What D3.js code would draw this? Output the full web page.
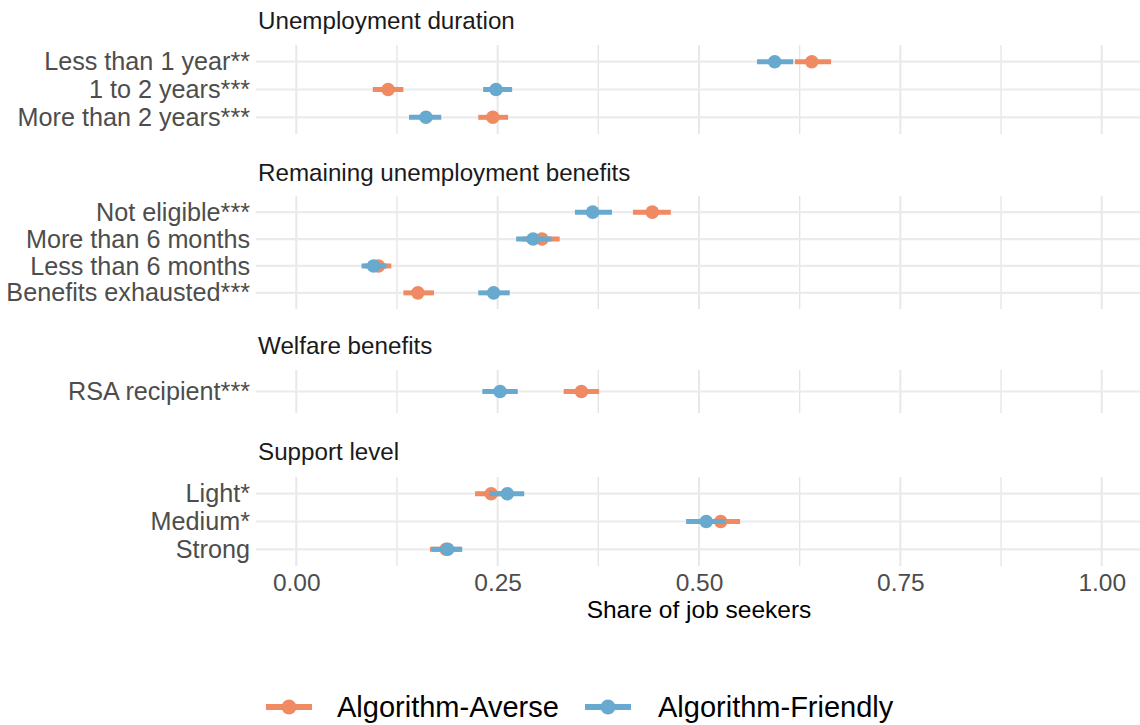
<!DOCTYPE html>
<html>
<head>
<meta charset="utf-8">
<script src="https://cdn.jsdelivr.net/npm/d3@7"></script>
<style>
  html, body { margin: 0; padding: 0; background: #fff; }
  svg { display: block; font-family: "Liberation Sans", Arial, sans-serif; }
</style>
</head>
<body>
<svg id="chart" width="1140" height="725"></svg>
<script>
// ---------------- data ----------------
const panels = ["Unemployment duration", "Remaining unemployment benefits", "Welfare benefits", "Support level"];
const categories = [
  "Less than 1 year**", "1 to 2 years***", "More than 2 years***",
  "Not eligible***", "More than 6 months", "Less than 6 months", "Benefits exhausted***",
  "RSA recipient***",
  "Light*", "Medium*", "Strong"
];
const categoryPanel = [0, 0, 0, 1, 1, 1, 1, 2, 3, 3, 3];
const seriesNames = ["Algorithm-Averse", "Algorithm-Friendly"];
const averseEst  = [0.640, 0.114, 0.244, 0.442, 0.305, 0.102, 0.151, 0.354, 0.242, 0.527, 0.186];
const averseLo   = [0.619, 0.095, 0.226, 0.418, 0.281, 0.085, 0.133, 0.332, 0.222, 0.505, 0.166];
const averseHi   = [0.664, 0.133, 0.263, 0.465, 0.327, 0.118, 0.171, 0.376, 0.262, 0.551, 0.205];
const friendlyEst = [0.594, 0.248, 0.161, 0.368, 0.294, 0.096, 0.245, 0.253, 0.262, 0.509, 0.188];
const friendlyLo  = [0.572, 0.232, 0.140, 0.346, 0.273, 0.081, 0.226, 0.231, 0.240, 0.484, 0.168];
const friendlyHi  = [0.617, 0.268, 0.180, 0.392, 0.317, 0.112, 0.265, 0.275, 0.283, 0.533, 0.206];
const xTicks = [0, 0.25, 0.5, 0.75, 1];
const xMinor = [0.125, 0.375, 0.625, 0.875];
const xTitle = "Share of job seekers";

// ---------------- layout ----------------
const colors = ["#EF8A62", "#67A9CF"];
const panelTop = [45, 196, 370, 477];
const panelBottom = [134, 309, 413, 566];
const titleY = [21, 173, 346, 452];
const plotLeft = 256, plotRight = 1142;

const svg = d3.select("#chart");
const x = d3.scaleLinear().domain([-0.05, 1.05]).range([plotLeft, plotRight]);

const series = [
  { name: seriesNames[0], est: averseEst, lo: averseLo, hi: averseHi, color: colors[0] },
  { name: seriesNames[1], est: friendlyEst, lo: friendlyLo, hi: friendlyHi, color: colors[1] }
];

svg.append("defs").append("clipPath").attr("id", "clipAll")
  .append("rect").attr("x", plotLeft).attr("y", 0).attr("width", 1140 - plotLeft).attr("height", 725);

panels.forEach((pname, pi) => {
  const idx = categories.map((c, i) => i).filter(i => categoryPanel[i] === pi);
  const y = d3.scalePoint().domain(idx).range([panelTop[pi], panelBottom[pi]]).padding(0.6);
  const g = svg.append("g").attr("clip-path", "url(#clipAll)");

  // minor vertical grid
  g.selectAll("line.minor").data(xMinor).join("line")
    .attr("x1", d => x(d)).attr("x2", d => x(d))
    .attr("y1", panelTop[pi]).attr("y2", panelBottom[pi])
    .attr("stroke", "#E4E4E4").attr("stroke-width", 1.3);
  // major vertical grid
  g.selectAll("line.major").data(xTicks).join("line")
    .attr("x1", d => x(d)).attr("x2", d => x(d))
    .attr("y1", panelTop[pi]).attr("y2", panelBottom[pi])
    .attr("stroke", "#E8E8E8").attr("stroke-width", 2);
  // horizontal grid
  g.selectAll("line.hgrid").data(idx).join("line")
    .attr("x1", plotLeft).attr("x2", plotRight)
    .attr("y1", d => y(d)).attr("y2", d => y(d))
    .attr("stroke", "#EBEBEB").attr("stroke-width", 2.2);

  // y axis labels
  const yAxis = d3.axisLeft(y).tickSize(0).tickPadding(0).tickFormat(i => categories[i]);
  const ya = svg.append("g").attr("transform", `translate(250,0)`).call(yAxis);
  ya.select(".domain").remove();
  ya.selectAll("text").attr("font-size", 25.2).attr("fill", "#4D4D4D")
    .attr("font-family", "'Liberation Sans', Arial, sans-serif");

  // strip title
  svg.append("text").attr("x", 258).attr("y", titleY[pi]).attr("dy", "0.35em")
    .attr("font-size", 24.2).attr("fill", "#1A1A1A").text(pname);

  // marks
  series.forEach(s => {
    const mg = g.append("g");
    mg.selectAll("line.ci").data(idx).join("line")
      .attr("x1", i => x(s.lo[i])).attr("x2", i => x(s.hi[i]))
      .attr("y1", i => y(i)).attr("y2", i => y(i))
      .attr("stroke", s.color).attr("stroke-width", 5);
    mg.selectAll("circle").data(idx).join("circle")
      .attr("cx", i => x(s.est[i])).attr("cy", i => y(i)).attr("r", 6.8)
      .attr("fill", s.color);
  });
});

// x axis (bottom)
const xAxis = d3.axisBottom(x).tickValues(xTicks).tickSize(0).tickPadding(0)
  .tickFormat(d3.format(".2f"));
const xa = svg.append("g").attr("transform", "translate(0,574)").call(xAxis);
xa.select(".domain").remove();
xa.selectAll("text").attr("font-size", 24.5).attr("fill", "#4D4D4D")
  .attr("font-family", "'Liberation Sans', Arial, sans-serif");

svg.append("text").attr("x", x(0.5)).attr("y", 609).attr("dy", "0.35em")
  .attr("text-anchor", "middle").attr("font-size", 24.5).attr("fill", "#000").text(xTitle);

// legend
const legendKeyX = [266, 585];
const legendTextX = [337, 658];
const legendY = 707;
series.forEach((s, k) => {
  const lg = svg.append("g");
  lg.append("line").attr("x1", legendKeyX[k]).attr("x2", legendKeyX[k] + 46)
    .attr("y1", legendY).attr("y2", legendY).attr("stroke", s.color).attr("stroke-width", 6);
  lg.append("circle").attr("cx", legendKeyX[k] + 23).attr("cy", legendY).attr("r", 7.5).attr("fill", s.color);
  lg.append("text").attr("x", legendTextX[k]).attr("y", legendY).attr("dy", "0.35em")
    .attr("font-size", 29).attr("fill", "#000").text(s.name);
});
</script>
</body>
</html>
